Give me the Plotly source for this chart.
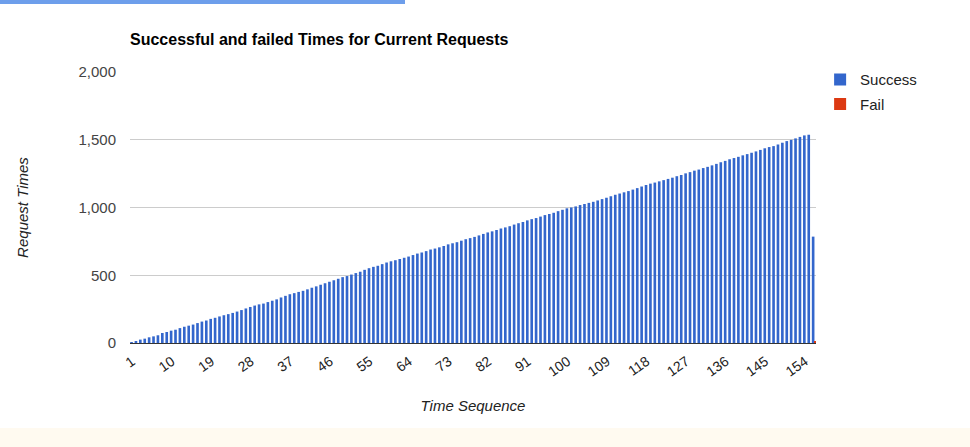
import plotly.graph_objects as go

# ---- data ----
time_seq = list(range(1, 157))
success = [
    7, 12, 25, 32, 42, 49, 57, 74, 81, 91, 98, 110,
    120, 128, 136, 147, 158, 166, 178,
    186, 196, 205, 213, 222, 232, 243, 255, 266,
    276, 285, 291, 302, 312, 322, 336, 348, 360,
    368, 377, 385, 396, 408, 418, 430, 441, 452,
    463, 474, 486, 494, 505, 516, 526, 540, 552,
    562, 570, 582, 594, 603, 611, 620, 629, 638,
    649, 660, 668, 678, 690, 697, 706, 716, 728,
    736, 744, 755, 766, 774, 783, 794, 805, 816,
    824, 834, 845, 853, 862, 874, 884, 893, 905,
    914, 922, 933, 944, 952, 961, 973, 983, 994,
    1000, 1008, 1018, 1026, 1034, 1042, 1052, 1062, 1072,
    1083, 1094, 1103, 1112, 1121, 1132, 1143, 1155, 1166,
    1176, 1184, 1193, 1202, 1211, 1220, 1231, 1240, 1252,
    1261, 1272, 1280, 1291, 1300, 1311, 1322, 1334, 1344,
    1356, 1365, 1374, 1385, 1394, 1404, 1414, 1425, 1437,
    1446, 1453, 1465, 1478, 1490, 1499, 1510, 1521, 1532,
    1537, 785,
]
fail = [0] * 155 + [8]
x_tick_vals = list(range(1, 157, 9))
x_tick_text = [str(v) for v in x_tick_vals]
y_tick_vals = [0, 500, 1000, 1500, 2000]
y_tick_text = ["0", "500", "1,000", "1,500", "2,000"]

FONT = "Arial, Liberation Sans, sans-serif"

fig = go.Figure()
fig.add_trace(go.Bar(
    x=time_seq, y=success, name="Success", legendgroup="s",
    marker=dict(color="#3366cc", line=dict(width=0)),
    width=0.6, offset=-0.45,
))
fig.add_trace(go.Bar(
    x=time_seq, y=fail, name="Fail", legendgroup="f",
    marker=dict(color="#dc3912", line=dict(width=0)),
    width=0.3, offset=0.15,
))

fig.update_layout(
    width=970, height=447,
    barmode="overlay",
    paper_bgcolor="white", plot_bgcolor="white",
    margin=dict(l=130, r=154, t=72, b=104, autoexpand=False),
    font=dict(family=FONT, size=15, color="#222"),
    title=dict(
        text="<b>Successful and failed Times for Current Requests</b>",
        x=130 / 970, xanchor="left", y=1 - 39 / 447, yanchor="middle",
        font=dict(family=FONT, size=16, color="#000"),
    ),
    legend=dict(
        x=1.006, xanchor="left", y=1.032, yanchor="top",
        font=dict(family=FONT, size=15, color="#222"),
        bgcolor="rgba(0,0,0,0)", tracegroupgap=2, itemwidth=30,
    ),
    xaxis=dict(
        range=[0.5, 156.5],
        tickmode="array", tickvals=x_tick_vals, ticktext=x_tick_text,
        tickangle=-35, showgrid=False, zeroline=False,
        showline=True, linecolor="#333", linewidth=1,
        ticklabelstandoff=4,
        tickfont=dict(family=FONT, size=14, color="#222"),
        title=dict(text="<i>Time Sequence</i>", standoff=22,
                   font=dict(family=FONT, size=15, color="#222")),
        automargin=False,
    ),
    yaxis=dict(
        range=[0, 2000],
        tickmode="array", tickvals=y_tick_vals, ticktext=y_tick_text,
        showgrid=True, gridcolor="#cccccc", gridwidth=1,
        zeroline=True, zerolinecolor="#333", zerolinewidth=1,
        ticklabelstandoff=13,
        tickfont=dict(family=FONT, size=15, color="#444"),
        title=dict(text="<i>Request Times</i>", standoff=46,
                   font=dict(family=FONT, size=15, color="#222")),
        automargin=False,
    ),
    shapes=[
        dict(type="rect", xref="paper", yref="paper",
             x0=-130 / 686, x1=(405 - 130) / 686,
             y0=(343 - 4) / 271, y1=(343 + 2) / 271,
             fillcolor="#6d9eeb", line=dict(width=0), layer="below"),
        dict(type="rect", xref="paper", yref="paper",
             x0=-130 / 686, x1=(970 - 130) / 686,
             y0=(343 - 447) / 271, y1=(343 - 428) / 271,
             fillcolor="#fffaf0", line=dict(width=0), layer="below"),
    ],
)

fig.write_html(
    "out.html",
    config={"displayModeBar": False},
    post_script="document.body.style.margin='0';document.body.style.overflow='hidden';",
)
